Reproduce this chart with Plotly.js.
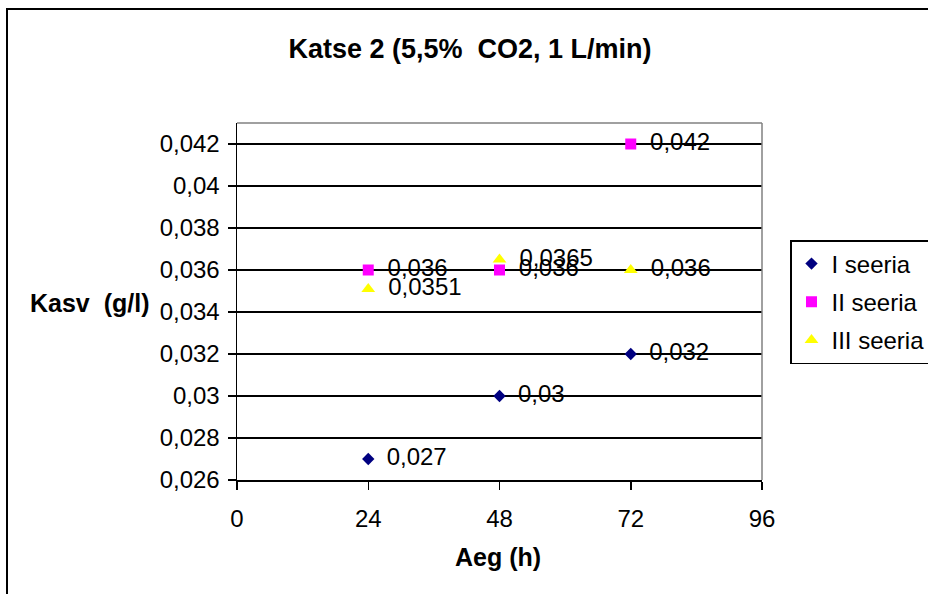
<!DOCTYPE html>
<html>
<head>
<meta charset="utf-8">
<script src="https://cdn.plot.ly/plotly-3.0.1.min.js"></script>
<style>
  html, body { margin: 0; padding: 0; background: #fff; }
  #wrap { position: relative; width: 928px; height: 594px; overflow: hidden; }
  #chart { width: 928px; height: 594px; }
  #frame { position: absolute; left: 6px; top: 8px; width: 1000px; height: 700px;
           border-left: 2.5px solid #000; border-top: 2.5px solid #000; pointer-events: none; }
</style>
</head>
<body>
<div id="wrap">
  <div id="chart"></div>
  <div id="frame"></div>
</div>
<script>
// ---- data ----
const hours = [24, 48, 72];
const seria1 = [0.027, 0.03, 0.032];
const seria2 = [0.036, 0.036, 0.042];
const seria3 = [0.0351, 0.0365, 0.036];
const seriesNames = ["I seeria", "II seeria", "III seeria"];
const xTickVals = [0, 24, 48, 72, 96];
const xTickText = ["0", "24", "48", "72", "96"];
const yTickVals = [0.026, 0.028, 0.03, 0.032, 0.034, 0.036, 0.038, 0.04, 0.042];
const yTickText = ["0,026", "0,028", "0,03", "0,032", "0,034", "0,036", "0,038", "0,04", "0,042"];
const titleText = "Katse 2 (5,5%&nbsp;&nbsp;CO2, 1 L/min)";
const xTitle = "Aeg (h)";
const yTitle = "Kasv&nbsp;&nbsp;(g/l)";

const FONT = "Liberation Sans, Arial, sans-serif";
const fmt = v => "\u2009 " + String(v).replace(".", ",");

function mk(name, y, color, symbol, size, group) {
  return {
    type: "scatter", mode: "markers+text", name: name, x: hours, y: y,
    text: y.map(fmt), textposition: "middle right",
    textfont: { family: FONT, size: 24, color: "#000" },
    marker: { color: color, symbol: symbol, size: size, line: { width: 0 } },
    legendgroup: group, cliponaxis: false, hoverinfo: "x+y"
  };
}

const traces = [
  mk(seriesNames[0], seria1, "#000080", "diamond", 9.5, "g1"),
  mk(seriesNames[1], seria2, "#FF00FF", "square", 11, "g2"),
  mk(seriesNames[2], seria3, "#FFFF00", "triangle-up", 12, "g3")
];

const layout = {
  width: 928, height: 594,
  margin: { l: 237, r: 166, t: 123, b: 114, pad: 0, autoexpand: false },
  paper_bgcolor: "#fff", plot_bgcolor: "#fff",
  font: { family: FONT, size: 24, color: "#000" },
  separators: ", ",
  title: {
    text: "<b>" + titleText + "</b>",
    font: { family: FONT, size: 27, color: "#000" },
    xref: "container", x: 470 / 928, xanchor: "center",
    yref: "container", y: 1 - 49 / 594, yanchor: "middle"
  },
  xaxis: {
    range: [0, 96], tickvals: xTickVals, ticktext: xTickText,
    ticks: "outside", ticklen: 8, tickwidth: 1.5, tickcolor: "#000",
    showline: true, linecolor: "#000", linewidth: 1.5,
    showgrid: false, zeroline: false,
    tickfont: { family: FONT, size: 24, color: "#000" },
    ticklabelstandoff: 9
  },
  yaxis: {
    range: [0.026, 0.043], tickvals: yTickVals, ticktext: yTickText,
    ticks: "outside", ticklen: 8, tickwidth: 1.5, tickcolor: "#000",
    showline: true, linecolor: "#000", linewidth: 1.5,
    showgrid: true, gridcolor: "#000", gridwidth: 1.5, zeroline: false,
    tickfont: { family: FONT, size: 24, color: "#000" },
    ticklabelstandoff: 3
  },
  showlegend: true,
  legend: {
    x: (790 - 237) / 525, xanchor: "left", xref: "paper",
    y: (480 - 240) / 357, yanchor: "top", yref: "paper",
    bgcolor: "#fff", bordercolor: "#000", borderwidth: 1.5,
    font: { family: FONT, size: 24, color: "#000" },
    tracegroupgap: 4, traceorder: "grouped", itemwidth: 30
  },
  shapes: [
    { type: "line", xref: "paper", yref: "paper", x0: 0, x1: 1, y0: 1, y1: 1,
      line: { color: "#808080", width: 1.5 } },
    { type: "line", xref: "paper", yref: "paper", x0: 1, x1: 1, y0: 0, y1: 1,
      line: { color: "#808080", width: 1.5 } }
  ],
  annotations: [
    { text: "<b>" + yTitle + "</b>", xref: "paper", yref: "paper",
      x: (89.5 - 237) / 525, y: (480 - 303) / 357, xanchor: "center", yanchor: "middle",
      showarrow: false, font: { family: FONT, size: 25, color: "#000" } },
    { text: "<b>" + xTitle + "</b>", xref: "paper", yref: "paper",
      x: (498 - 237) / 525, y: (480 - 557) / 357, xanchor: "center", yanchor: "middle",
      showarrow: false, font: { family: FONT, size: 25, color: "#000" } }
  ]
};

Plotly.newPlot("chart", traces, layout, { displayModeBar: false, staticPlot: true });
</script>
</body>
</html>
